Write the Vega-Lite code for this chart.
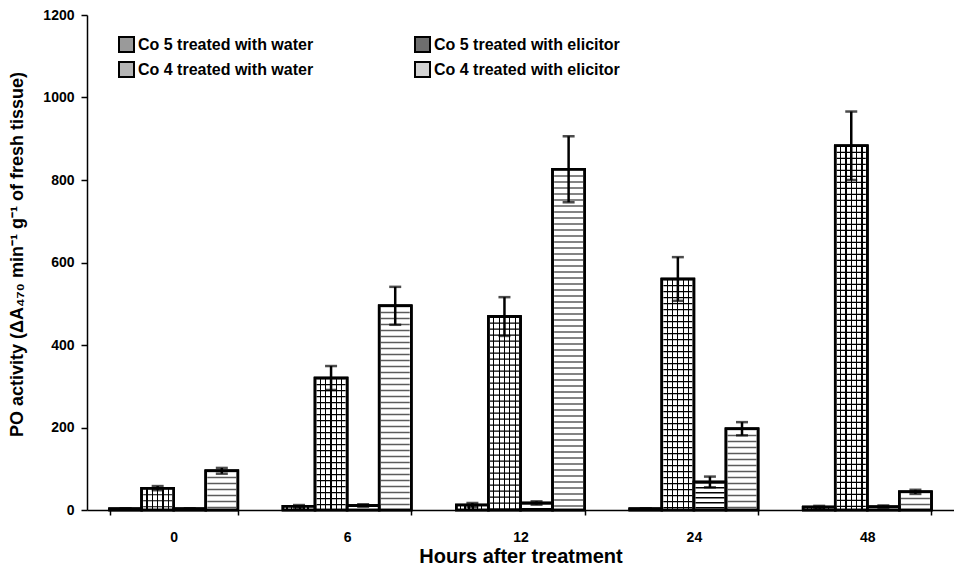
{
  "$schema": "https://vega.github.io/schema/vega-lite/v6.json",
  "width": 867,
  "height": 495,
  "autosize": "none",
  "padding": {"left": 87, "top": 15, "right": 0, "bottom": 60},
  "background": "white",
  "config": {
    "view": {"stroke": null},
    "font": "Liberation Sans",
    "axis": {"domainColor": "black", "domainWidth": 1.5, "tickColor": "black", "tickWidth": 1.5, "labelColor": "black", "titleColor": "black", "labelFont": "Liberation Sans", "titleFont": "Liberation Sans", "labelFontWeight": "bold", "titleFontWeight": "bold", "labelFontSize": 14, "titleFontSize": 18, "grid": false}
  },
  "data": {
    "values": [
      {"hour": "0", "series": "Co 5 treated with water", "value": 3, "lo": 2, "hi": 4},
      {"hour": "0", "series": "Co 5 treated with elicitor", "value": 53, "lo": 48, "hi": 58},
      {"hour": "0", "series": "Co 4 treated with water", "value": 3, "lo": 2, "hi": 4},
      {"hour": "0", "series": "Co 4 treated with elicitor", "value": 95, "lo": 88, "hi": 102},
      {"hour": "6", "series": "Co 5 treated with water", "value": 9, "lo": 6, "hi": 12},
      {"hour": "6", "series": "Co 5 treated with elicitor", "value": 320, "lo": 291, "hi": 349},
      {"hour": "6", "series": "Co 4 treated with water", "value": 11, "lo": 8, "hi": 14},
      {"hour": "6", "series": "Co 4 treated with elicitor", "value": 495, "lo": 449, "hi": 541},
      {"hour": "12", "series": "Co 5 treated with water", "value": 12, "lo": 7, "hi": 17},
      {"hour": "12", "series": "Co 5 treated with elicitor", "value": 469, "lo": 422, "hi": 516},
      {"hour": "12", "series": "Co 4 treated with water", "value": 17, "lo": 13, "hi": 21},
      {"hour": "12", "series": "Co 4 treated with elicitor", "value": 826, "lo": 746, "hi": 906},
      {"hour": "24", "series": "Co 5 treated with water", "value": 3, "lo": 2, "hi": 4},
      {"hour": "24", "series": "Co 5 treated with elicitor", "value": 560, "lo": 507, "hi": 613},
      {"hour": "24", "series": "Co 4 treated with water", "value": 68, "lo": 55, "hi": 81},
      {"hour": "24", "series": "Co 4 treated with elicitor", "value": 197, "lo": 181, "hi": 213},
      {"hour": "48", "series": "Co 5 treated with water", "value": 7, "lo": 4, "hi": 10},
      {"hour": "48", "series": "Co 5 treated with elicitor", "value": 883, "lo": 800, "hi": 966},
      {"hour": "48", "series": "Co 4 treated with water", "value": 8, "lo": 5, "hi": 11},
      {"hour": "48", "series": "Co 4 treated with elicitor", "value": 44, "lo": 39, "hi": 49}
    ]
  },
  "encoding": {
    "x": {
      "field": "hour", "type": "ordinal", "sort": ["0", "6", "12", "24", "48"],
      "scale": {"paddingInner": 0.26, "paddingOuter": 0.13},
      "axis": {"title": "Hours after treatment", "titleFontSize": 20, "labelAngle": 0, "tickBand": "extent", "tickSize": 5, "labelPadding": 15, "titlePadding": 2}
    },
    "xOffset": {
      "field": "series", "type": "nominal",
      "scale": {"domain": ["Co 5 treated with water", "Co 5 treated with elicitor", "Co 4 treated with water", "Co 4 treated with elicitor"]}
    },
    "y": {"field": "value", "type": "quantitative", "scale": {"domain": [0, 1200]},
      "axis": {"title": "PO activity (ΔA₄₇₀ min⁻¹ g⁻¹ of fresh tissue)", "format": "d", "values": [0, 200, 400, 600, 800, 1000, 1200], "tickSize": 6, "labelPadding": 7, "titleX": -70, "titleY": 239, "titleBaseline": "middle", "titleAlign": "center", "titleAngle": 270}}
  },
  "layer": [
    {
      "mark": {"type": "bar", "stroke": "black", "strokeWidth": 2.5},
      "encoding": {
        "fill": {"field": "series", "type": "nominal",
          "scale": {"domain": ["Co 5 treated with water", "Co 5 treated with elicitor", "Co 4 treated with water", "Co 4 treated with elicitor"], "range": ["#9a9a9a", "#6e6e6e", "#b4b4b4", "#d2d2d2"]},
          "legend": {"orient": "none", "legendX": 31, "legendY": 21, "columns": 2, "direction": "horizontal", "title": null, "symbolType": "square", "symbolSize": 225, "symbolStrokeColor": "black", "symbolStrokeWidth": 2, "labelFontSize": 16, "labelFont": "Liberation Sans", "labelFontWeight": "bold", "labelColor": "black", "labelLimit": 0, "columnPadding": 97, "rowPadding": 2, "labelOffset": 3}}
      }
    },
    {
      "transform": [{"filter": "datum.series === 'Co 5 treated with water'"}],
      "mark": {"type": "bar", "stroke": "black", "strokeWidth": 2.5, "fill": {"gradient": "linear", "x1": 0, "y1": 0, "x2": 1, "y2": 0, "stops": [
        {"offset": 0, "color": "white"}, {"offset": 0.11, "color": "white"}, {"offset": 0.11, "color": "black"}, {"offset": 0.16, "color": "black"}, {"offset": 0.16, "color": "white"},
        {"offset": 0.24, "color": "white"}, {"offset": 0.24, "color": "black"}, {"offset": 0.29, "color": "black"}, {"offset": 0.29, "color": "white"},
        {"offset": 0.37, "color": "white"}, {"offset": 0.37, "color": "black"}, {"offset": 0.42, "color": "black"}, {"offset": 0.42, "color": "white"},
        {"offset": 0.5, "color": "white"}, {"offset": 0.5, "color": "black"}, {"offset": 0.55, "color": "black"}, {"offset": 0.55, "color": "white"},
        {"offset": 0.63, "color": "white"}, {"offset": 0.63, "color": "black"}, {"offset": 0.68, "color": "black"}, {"offset": 0.68, "color": "white"},
        {"offset": 0.76, "color": "white"}, {"offset": 0.76, "color": "black"}, {"offset": 0.81, "color": "black"}, {"offset": 0.81, "color": "white"},
        {"offset": 1, "color": "white"}]}}
    },
    {
      "transform": [{"filter": "datum.series === 'Co 5 treated with elicitor'"}],
      "mark": {"type": "bar", "stroke": "black", "strokeWidth": 2.5, "fill": {"gradient": "linear", "x1": 0, "y1": 0, "x2": 1, "y2": 0, "stops": [
        {"offset": 0, "color": "white"}, {"offset": 0.148, "color": "white"}, {"offset": 0.148, "color": "black"}, {"offset": 0.185, "color": "black"}, {"offset": 0.185, "color": "white"},
        {"offset": 0.315, "color": "white"}, {"offset": 0.315, "color": "black"}, {"offset": 0.352, "color": "black"}, {"offset": 0.352, "color": "white"},
        {"offset": 0.481, "color": "white"}, {"offset": 0.481, "color": "black"}, {"offset": 0.519, "color": "black"}, {"offset": 0.519, "color": "white"},
        {"offset": 0.648, "color": "white"}, {"offset": 0.648, "color": "black"}, {"offset": 0.685, "color": "black"}, {"offset": 0.685, "color": "white"},
        {"offset": 0.815, "color": "white"}, {"offset": 0.815, "color": "black"}, {"offset": 0.852, "color": "black"}, {"offset": 0.852, "color": "white"},
        {"offset": 1, "color": "white"}]}}
    },
    {
      "transform": [{"filter": "datum.series === 'Co 4 treated with water' || datum.series === 'Co 4 treated with elicitor'"}],
      "mark": {"type": "bar", "stroke": "black", "strokeWidth": 2.5, "fill": "white"}
    },
    {
      "transform": [{"filter": "datum.series === 'Co 5 treated with elicitor'"}],
      "mark": {"type": "rule", "color": "black", "strokeWidth": 29, "strokeCap": "butt", "strokeDash": [1.2, 4.8]},
      "encoding": {"y2": {"datum": 0}}
    },
    {
      "transform": [{"filter": "datum.series === 'Co 4 treated with water'"}],
      "mark": {"type": "rule", "color": "black", "strokeWidth": 29, "strokeCap": "butt", "strokeDash": [1.5, 3.5]},
      "encoding": {"y2": {"datum": 0}}
    },
    {
      "transform": [{"filter": "datum.series === 'Co 4 treated with elicitor'"}],
      "mark": {"type": "rule", "color": "#5c5c5c", "strokeWidth": 29, "strokeCap": "butt", "strokeDash": [1.5, 4.5]},
      "encoding": {"y2": {"datum": 0}}
    },
    {
      "mark": {"type": "bar", "stroke": "black", "strokeWidth": 2.5, "fill": "transparent"},
      "encoding": {}
    },
    {
      "mark": {"type": "rule", "color": "black", "strokeWidth": 2.5},
      "encoding": {"y": {"field": "lo", "type": "quantitative", "title": "PO activity (ΔA₄₇₀ min⁻¹ g⁻¹ of fresh tissue)"}, "y2": {"field": "hi"}}
    },
    {
      "mark": {"type": "tick", "color": "black", "orient": "horizontal", "size": 12, "thickness": 2.5},
      "encoding": {"y": {"field": "hi", "type": "quantitative", "title": "PO activity (ΔA₄₇₀ min⁻¹ g⁻¹ of fresh tissue)"}}
    },
    {
      "mark": {"type": "tick", "color": "black", "orient": "horizontal", "size": 12, "thickness": 2.5},
      "encoding": {"y": {"field": "lo", "type": "quantitative", "title": "PO activity (ΔA₄₇₀ min⁻¹ g⁻¹ of fresh tissue)"}}
    }
  ]
}
